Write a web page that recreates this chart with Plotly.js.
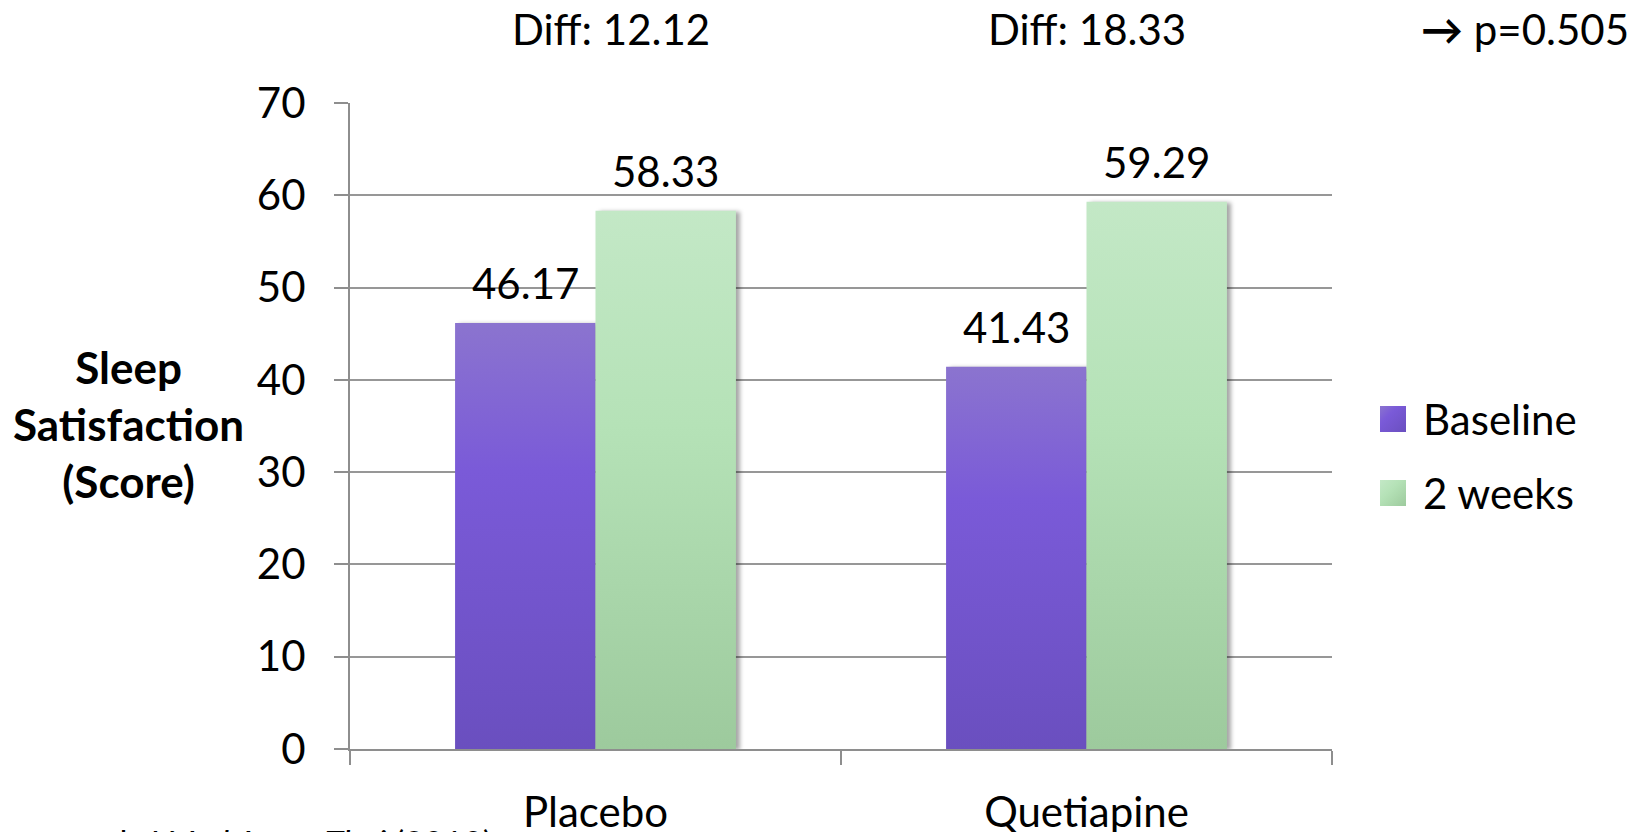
<!DOCTYPE html>
<html>
<head>
<meta charset="utf-8">
<script src="https://cdn.plot.ly/plotly-3.0.1.min.js"></script>
<style>
  html, body { margin: 0; padding: 0; background: #ffffff; }
  #chart { width: 1650px; height: 832px; }
</style>
</head>
<body>
<div id="chart"></div>
<script>
// Sleep satisfaction scores by group, before and after two weeks of treatment
const categories = ['Placebo', 'Quetiapine'];
const seriesNames = ['Baseline', '2 weeks'];
const baselineValues = [46.17, 41.43];
const twoWeekValues = [58.33, 59.29];
const diffLabels = ['Diff: 12.12', 'Diff: 18.33'];
const pValueLabel = '<b>\u2192</b> p=0.505';
const yTickValues = [0, 10, 20, 30, 40, 50, 60, 70];
const yAxisLabel = 'Sleep<br>Satisfaction<br>(Score)';
const citation = 'et al. <i>J Med Assoc Thai</i> (2010)';

const FONT = 'Lato, "Open Sans", sans-serif';
const AXIS_GRAY = '#8e8e8e';
const seriesColors = ['#7658cf', '#b1dcb2'];
// vertical gradient stops for each series
const gradientStops = [
  [['0%', '#8b74cf'], ['35%', '#7a5ad8'], ['100%', '#6a4fbf']],
  [['0%', '#c3e8c6'], ['40%', '#b5e2b7'], ['100%', '#9dca9d']]
];

const W = 1650, H = 832;
const margin = { l: 350, r: 318, t: 103, b: 83, pad: 0 };
const plotW = W - margin.l - margin.r;
const plotH = H - margin.t - margin.b;
const BARGAP = 0.428;
const barWidthPx = plotW / categories.length * (1 - BARGAP) / seriesNames.length;

// paper-coordinate helpers for the text placed around the plot
const px2x = p => (p - margin.l) / plotW;
const px2y = p => (H - margin.b - p) / plotH;

const allValues = [baselineValues, twoWeekValues];

const traces = allValues.map((vals, i) => ({
  type: 'bar',
  name: seriesNames[i],
  x: categories,
  y: vals,
  marker: { color: seriesColors[i], line: { width: 0 } },
  hoverinfo: 'none',
  showlegend: false
}));

const annotations = [];

// value labels above every bar
allValues.forEach((vals, i) => {
  const shift = (i - (seriesNames.length - 1) / 2) * barWidthPx;
  vals.forEach((v, j) => {
    annotations.push({
      xref: 'x', yref: 'y', x: categories[j], y: v,
      xshift: shift, yshift: 40,
      xanchor: 'center', yanchor: 'middle',
      text: v.toFixed(2), showarrow: false,
      font: { family: FONT, size: 42, color: '#000000' }
    });
  });
});

// difference labels across the top
diffLabels.forEach((t, j) => {
  annotations.push({
    xref: 'paper', yref: 'paper', x: px2x([611, 1087][j]), y: px2y(29),
    xanchor: 'center', yanchor: 'middle', text: t, showarrow: false,
    font: { family: FONT, size: 42, color: '#000000' }
  });
});
annotations.push({
  xref: 'paper', yref: 'paper', x: px2x(1419), y: px2y(29),
  xanchor: 'left', yanchor: 'middle', text: pValueLabel, showarrow: false,
  font: { family: FONT, size: 42, color: '#000000' }
});

// y axis title, three centred bold lines
annotations.push({
  xref: 'paper', yref: 'paper', x: px2x(128), y: px2y(424),
  xanchor: 'center', yanchor: 'middle', align: 'center',
  text: '<b>' + yAxisLabel + '</b>', showarrow: false,
  font: { family: FONT, size: 44, color: '#000000' }
});

// legend entries
const legendRows = [419, 493];
const shapes = [];
seriesNames.forEach((name, i) => {
  const cy = legendRows[i];
  shapes.push({
    type: 'rect', xref: 'paper', yref: 'paper',
    x0: px2x(1380), x1: px2x(1406), y0: px2y(cy + 13), y1: px2y(cy - 13),
    fillcolor: seriesColors[i], line: { width: 0 }
  });
  annotations.push({
    xref: 'paper', yref: 'paper', x: px2x(1421), y: px2y(cy),
    xanchor: 'left', yanchor: 'middle', text: name, showarrow: false,
    font: { family: FONT, size: 42, color: '#000000' }
  });
});

// source line along the bottom edge
annotations.push({
  xref: 'paper', yref: 'paper', x: px2x(62), y: px2y(820),
  xanchor: 'left', yanchor: 'top', text: citation, showarrow: false,
  font: { family: FONT, size: 34, color: '#000000' }
});

const layout = {
  width: W, height: H,
  margin: margin,
  paper_bgcolor: '#ffffff', plot_bgcolor: '#ffffff',
  barmode: 'group', bargap: BARGAP, bargroupgap: 0,
  showlegend: false,
  font: { family: FONT, size: 42, color: '#000000' },
  xaxis: {
    type: 'category',
    tickson: 'boundaries',
    ticks: 'outside', ticklen: 14, tickwidth: 2, tickcolor: AXIS_GRAY,
    showline: true, linecolor: AXIS_GRAY, linewidth: 2,
    showgrid: false, zeroline: false,
    tickfont: { family: FONT, size: 42, color: '#000000' },
    ticklabelstandoff: 26
  },
  yaxis: {
    range: [0, 70],
    tickvals: yTickValues,
    ticks: 'outside', ticklen: 14, tickwidth: 2, tickcolor: AXIS_GRAY,
    showline: true, linecolor: AXIS_GRAY, linewidth: 2,
    showgrid: true, gridcolor: '#979797', gridwidth: 2,
    zeroline: false,
    tickfont: { family: FONT, size: 42, color: '#000000' },
    ticklabelstandoff: 20
  },
  annotations: annotations,
  shapes: shapes
};

const gd = document.getElementById('chart');
Plotly.newPlot(gd, traces, layout, { staticPlot: true, displayModeBar: false }).then(() => {
  // shaded fills for the bars and legend swatches
  const svg = gd.querySelector('.main-svg');
  const NS = 'http://www.w3.org/2000/svg';
  let defs = svg.querySelector('defs');
  if (!defs) { defs = document.createElementNS(NS, 'defs'); svg.insertBefore(defs, svg.firstChild); }
  gradientStops.forEach((stops, i) => {
    [['v', '0', '0', '0', '1'], ['d', '0', '0', '1', '1']].forEach(([tag, x1, y1, x2, y2]) => {
      const g = document.createElementNS(NS, 'linearGradient');
      g.setAttribute('id', 'fill-' + tag + i);
      g.setAttribute('x1', x1); g.setAttribute('y1', y1);
      g.setAttribute('x2', x2); g.setAttribute('y2', y2);
      stops.forEach(([off, col]) => {
        const s = document.createElementNS(NS, 'stop');
        s.setAttribute('offset', off);
        s.setAttribute('stop-color', col);
        g.appendChild(s);
      });
      defs.appendChild(g);
    });
  });
  gd.querySelectorAll('.barlayer .trace').forEach((tr, i) => {
    tr.querySelectorAll('path').forEach(p => {
      p.style.fill = 'url(#fill-v' + i + ')';
      p.style.filter = 'drop-shadow(4px 1px 2px rgba(0,0,0,0.35))';
    });
  });
  gd.querySelectorAll('.layer-above .shapelayer path').forEach((p, i) => {
    p.style.fill = 'url(#fill-d' + i + ')';
  });
});
</script>
</body>
</html>
